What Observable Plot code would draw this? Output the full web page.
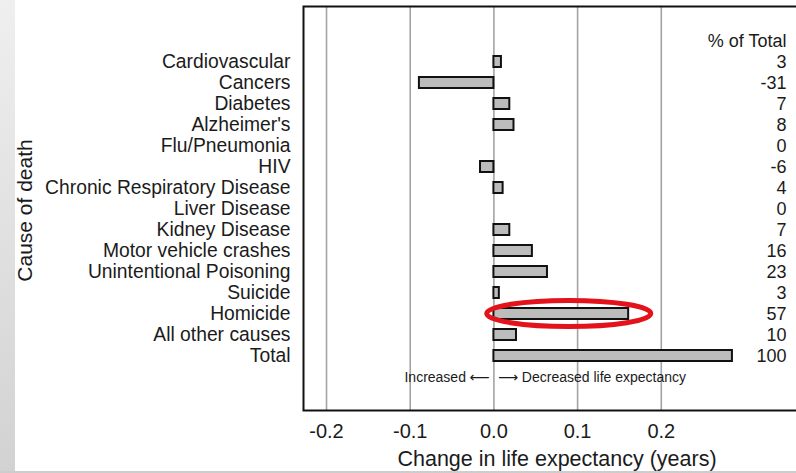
<!DOCTYPE html>
<html>
<head>
<meta charset="utf-8">
<script src="https://cdn.jsdelivr.net/npm/d3@7"></script>
<script src="https://cdn.jsdelivr.net/npm/@observablehq/plot@0.6"></script>
<style>
  html, body { margin: 0; padding: 0; width: 796px; height: 473px; overflow: hidden; background: #fff; }
  #page { position: relative; width: 796px; height: 473px; }
  #strip { position: absolute; left: 0; top: 0; width: 15px; height: 473px;
           background: linear-gradient(to bottom, #efefef, #d2d2d2); }
  #edge { position: absolute; left: 0; top: 471px; width: 796px; height: 2px; background: #cdcdcd; }
  #chart { position: absolute; left: 0; top: 0; }
  #chart svg { overflow: hidden; }
</style>
</head>
<body>
<div id="page">
  <div id="strip"></div>
  <div id="chart"></div>
  <div id="edge"></div>
</div>
<script>
// Causes of death, top to bottom
const causes = [
  "Cardiovascular", "Cancers", "Diabetes", "Alzheimer's", "Flu/Pneumonia", "HIV",
  "Chronic Respiratory Disease", "Liver Disease", "Kidney Disease",
  "Motor vehicle crashes", "Unintentional Poisoning", "Suicide", "Homicide",
  "All other causes", "Total"
];
// Change in life expectancy attributable to each cause (years)
const change = [
  0.009, -0.089, 0.019, 0.024, 0, -0.016, 0.011, 0, 0.019,
  0.046, 0.064, 0.0065, 0.161, 0.027, 0.285
];
// Share of the total change (%)
const pctOfTotal = [3, -31, 7, 8, 0, -6, 4, 0, 7, 16, 23, 3, 57, 10, 100];
const xTicks = [-0.2, -0.1, 0.0, 0.1, 0.2];

const rows = causes.map((cause, i) => ({cause, change: change[i], pct: pctOfTotal[i]}));

const font = "'Liberation Sans', Arial, Helvetica, 'DejaVu Sans', sans-serif";
const ink = "#1b1b1b";

// Highlight ring around the homicide bar
const ring = (index, scales) => {
  const {x, y} = scales;
  const cy = y("Homicide") + (y.bandwidth ? y.bandwidth() / 2 : 0);
  const cx = x(0.09);
  const rx = x(0.09 + 0.098) - cx;
  return d3.create("svg:ellipse")
    .attr("cx", cx).attr("cy", cy).attr("rx", rx).attr("ry", 13)
    .attr("fill", "none").attr("stroke", "#e3121b").attr("stroke-width", 5)
    .node();
};

const plot = Plot.plot({
  width: 796,
  height: 473,
  marginLeft: 303,
  marginRight: -10,
  marginTop: 6,
  marginBottom: 63,
  style: {fontFamily: font, color: ink, background: "transparent", overflow: "hidden"},
  x: {domain: [-0.2275, 0.3735]},
  y: {domain: causes, range: [45.2, 371.8], padding: 0.5},
  marks: [
    Plot.ruleX(xTicks, {stroke: "#a4a4a4", strokeWidth: 1.6}),
    Plot.barX(rows, {x: "change", y: "cause", fill: "#bcbcbc", stroke: "#111", strokeWidth: 2}),
    Plot.text(rows, {y: "cause", text: d => String(d.pct), frameAnchor: "right", dx: -20,
                     textAnchor: "end", fontSize: 18, fill: ink}),
    Plot.text(["% of Total"], {y: () => causes[0], text: d => d, dy: -21, frameAnchor: "right",
                               dx: -20, textAnchor: "end", fontSize: 18, fill: ink}),
    Plot.text(["Increased \u27F5"], {x: () => 0, y: () => "Total", text: d => d, dy: 22, dx: -4,
                                      textAnchor: "end", fontSize: 14, fill: ink}),
    Plot.text(["\u27F6 Decreased life expectancy"], {x: () => 0, y: () => "Total", text: d => d,
                                      dy: 22, dx: 4, textAnchor: "start", fontSize: 14, fill: ink}),
    ring,
    Plot.axisX(xTicks, {tickSize: 0, tickPadding: 13, fontSize: 20, tickFormat: d => d.toFixed(1),
                        label: null}),
    Plot.axisY({tickSize: 0, tickPadding: 13, fontSize: 19.3, label: null}),
    // Axis titles
    Plot.text(["Change in life expectancy (years)"], {frameAnchor: "bottom", text: d => d, dy: 49,
                                      dx: 2, lineAnchor: "middle", fontSize: 21.5, fill: ink}),
    Plot.text(["Cause of death"], {frameAnchor: "left", text: d => d, rotate: -90, dx: -278, dy: 2,
                                   textAnchor: "middle", lineAnchor: "middle", fontSize: 21, fill: ink}),
    Plot.frame({stroke: "#111", strokeWidth: 2})
  ]
});

document.getElementById("chart").append(plot);
</script>
</body>
</html>
